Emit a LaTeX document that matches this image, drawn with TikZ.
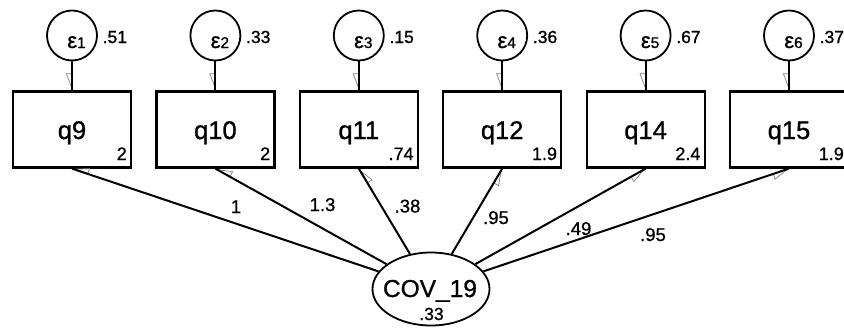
\documentclass[tikz,border=0pt]{standalone}
\usepackage{fontspec}
\setmainfont[FakeBold=1]{Liberation Sans}
\usetikzlibrary{arrows.meta,shapes.geometric}
\newcommand\fsz[1]{\fontsize{#1}{#1}\selectfont}
\begin{document}
\begin{tikzpicture}[x=1pt,y=-1pt,
  obs/.style={draw, line width=2.2pt, minimum width=118pt, minimum height=76pt, inner sep=0pt},
  err/.style={draw, circle, line width=1.8pt, minimum size=50pt, inner sep=0pt},
  lat/.style={draw, ellipse, line width=1.8pt, minimum width=117pt, minimum height=73pt, inner sep=0pt},
  conn/.style={line width=2pt},
  tipline/.style={gray, line width=0.7pt, -{Triangle[open, right, length=16pt, width=12pt]}},
  txt/.style={inner sep=0pt, anchor=base},
  big/.style={txt, font=\fsz{25.5}},
  lab/.style={txt, font=\fsz{18.5}},
  var/.style={txt, anchor=base west, font=\fsz{17.5}},
  cor/.style={txt, anchor=base east, font=\fsz{18}},
]
\useasboundingbox (0,0) rectangle (844,327);

% latent
\node[lat] (cov) at (431,289) {};
\node[txt, font=\fsz{24.5}] (covt) at (430,297) {COV\_19};
\node[txt, font=\fsz{17.5}] (covv) at (431.5,320) {.33};

\foreach \i/\x/\n/\c/\v in {1/72/q9/2/.51, 2/215.4/q10/2/.33, 3/358.8/q11/.74/.15, 4/502.2/q12/1.9/.36, 5/645.6/q14/2.4/.67, 6/789/q15/1.9/.37}{
  \node[obs] (b\i) at (\x,129.5) {};
  \node[big] (bt\i) at (\x,139) {\n};
  \node[cor] (bc\i) at (\x+55,160) {\c};
  \node[err] (e\i) at (\x,35.5) {};
  \node[txt] (et\i) at (\x+4.5,48) {{\fsz{22}ε}{\fsz{15.5}\i}};
  \node[var] (ev\i) at (\x+30.5,43) {\v};
  \draw[tipline] (e\i.south) -- (b\i.north);
  \draw[conn] (e\i.south) -- (b\i.north);
  \draw[tipline] (cov) -- (b\i.south);
  \draw[conn] (cov) -- (b\i.south);
}

\node[lab] (l1) at (236,213) {1};
\node[lab] (l2) at (322.5,211) {1.3};
\node[lab] (l3) at (407.5,212.5) {.38};
\node[lab] (l4) at (496,224) {.95};
\node[lab] (l5) at (578.5,235) {.49};
\node[lab] (l6) at (653,241) {.95};
\end{tikzpicture}
\end{document}
